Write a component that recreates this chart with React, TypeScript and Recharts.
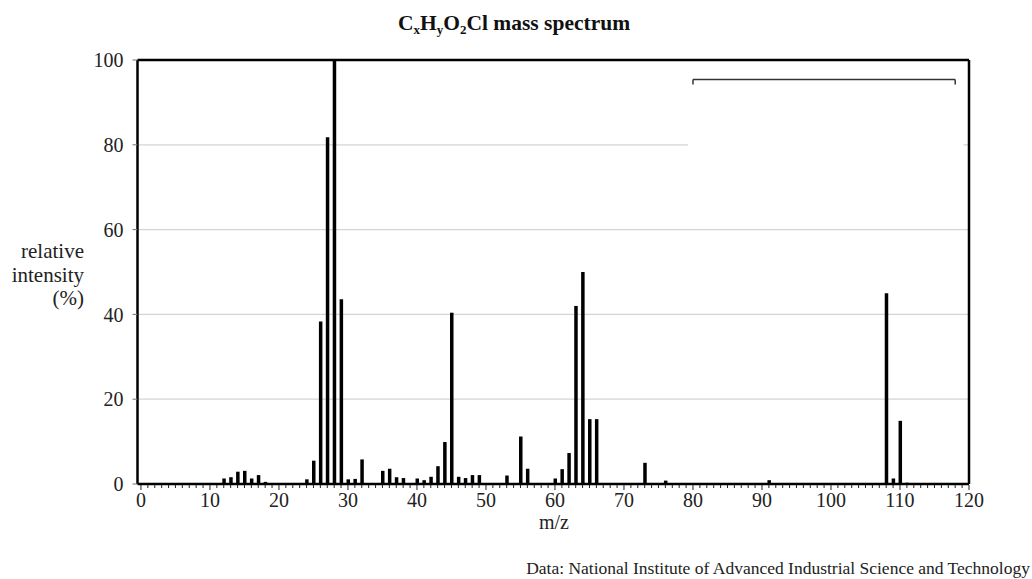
import { Bar, BarChart, CartesianGrid, ReferenceArea, ReferenceLine, XAxis, YAxis } from "recharts";

// m/z positions and relative intensities
const mzValues = [
    12, 13, 14, 15, 16, 17, 18, 24, 25, 26, 27, 28, 29, 30, 31, 32, 35, 36, 37, 38, 40, 41, 42, 43, 44, 45, 46,
    47, 48, 49, 53, 55, 56, 60, 61, 62, 63, 64, 65, 66, 73, 76, 91, 108, 109, 110, 111,
];
const intensities = [
    1.3, 1.6, 2.9, 3.1, 1.3, 2.1, 0.5, 1.1, 5.5, 38.3, 81.8, 100, 43.6, 1.1, 1.2, 5.8, 3.1, 3.6, 1.6, 1.4, 1.3, 0.9,
    1.7, 4.2, 9.9, 40.4, 1.7, 1.4, 2.1, 2.1, 2.0, 11.2, 3.6, 1.3, 3.5, 7.3, 42.0, 50.0, 15.3, 15.3, 5.0, 0.8, 0.9,
    45.0, 1.3, 14.9, 0.3,
];
const yTicks = [0, 20, 40, 60, 80, 100];
const xTicks = Array.from({ length: 121 }, (_, i) => i);

// empty key box in the top right corner
const bracketY = 95.4;
const bracketTickY = 94.2;
const bracketX1 = 80;
const bracketX2 = 118;

const data = mzValues.map((mz, i) => ({ mz, intensity: intensities[i] }));

const FONT = "'Liberation Serif', 'Times New Roman', serif";

const XTick = (props: any) => {
    const { x, y, payload } = props;
    const v = payload.value;
    const major = v % 10 === 0;
    return (
        <g>
            <line x1={x} x2={x} y1={y + 1} y2={y + (major ? 6 : 4)} stroke="#222" strokeWidth={1} />
            {major && (
                <text x={x} y={y + 23} textAnchor="middle" fontSize={20} fill="#222" fontFamily={FONT}>
                    {v}
                </text>
            )}
        </g>
    );
};

export default function App() {
    return (
        <div style={{ position: "absolute", left: 0, top: 0, width: 1032, height: 579, background: "#fff" }}>
            <BarChart
                width={1032}
                height={579}
                data={data}
                margin={{ top: 60, right: 63, left: 77.5, bottom: 65 }}
                style={{ fontFamily: FONT }}
            >
                <CartesianGrid vertical={false} stroke="#d4d4d4" strokeWidth={1.2} />
                <XAxis
                    dataKey="mz"
                    type="number"
                    domain={[-0.5, 120]}
                    ticks={xTicks}
                    interval={0}
                    tick={<XTick />}
                    tickLine={false}
                    tickSize={0}
                    tickMargin={0}
                    height={30}
                    axisLine={{ stroke: "#000", strokeWidth: 2.5 }}
                />
                <YAxis
                    type="number"
                    domain={[0, 100]}
                    ticks={yTicks}
                    width={60}
                    tickSize={5}
                    tickMargin={9}
                    tickLine={{ stroke: "#777" }}
                    tick={{ fontSize: 20, fill: "#222", fontFamily: FONT }}
                    axisLine={{ stroke: "#000", strokeWidth: 2.5 }}
                />
                <ReferenceArea x1={79.3} x2={119.2} y1={70} y2={99} fill="#fff" fillOpacity={1} stroke="none" />
                <ReferenceLine y={100} stroke="#000" strokeWidth={2.5} />
                <ReferenceLine x={120} stroke="#000" strokeWidth={2.5} />
                <ReferenceLine
                    segment={[{ x: bracketX1, y: bracketY }, { x: bracketX2, y: bracketY }]}
                    stroke="#333"
                    strokeWidth={1.5}
                />
                <ReferenceLine
                    segment={[{ x: bracketX1, y: bracketY }, { x: bracketX1, y: bracketTickY }]}
                    stroke="#333"
                    strokeWidth={1.5}
                />
                <ReferenceLine
                    segment={[{ x: bracketX2, y: bracketY }, { x: bracketX2, y: bracketTickY }]}
                    stroke="#333"
                    strokeWidth={1.5}
                />
                <Bar dataKey="intensity" fill="#000" barSize={3.5} isAnimationActive={false} />
            </BarChart>

            <svg
                width={1032}
                height={579}
                style={{ position: "absolute", left: 0, top: 0, pointerEvents: "none" }}
                fontFamily={FONT}
            >
                <text x={514} y={30} textAnchor="middle" fontSize={21.5} fontWeight="bold" fill="#111">
                    C<tspan fontSize={13} dy={4}>x</tspan>
                    <tspan dy={-4}>H</tspan>
                    <tspan fontSize={13} dy={4}>y</tspan>
                    <tspan dy={-4}>O</tspan>
                    <tspan fontSize={13} dy={4}>2</tspan>
                    <tspan dy={-4}>Cl mass spectrum</tspan>
                </text>
                <text textAnchor="end" fontSize={21} fill="#222">
                    <tspan x={84} y={258}>relative</tspan>
                    <tspan x={84} y={282}>intensity</tspan>
                    <tspan x={84} y={305}>(%)</tspan>
                </text>
                <text x={554} y={529} textAnchor="middle" fontSize={20} fill="#222">
                    m/z
                </text>
                <text x={1030} y={574} textAnchor="end" fontSize={17.5} fill="#222">
                    Data: National Institute of Advanced Industrial Science and Technology
                </text>
            </svg>
        </div>
    );
}
